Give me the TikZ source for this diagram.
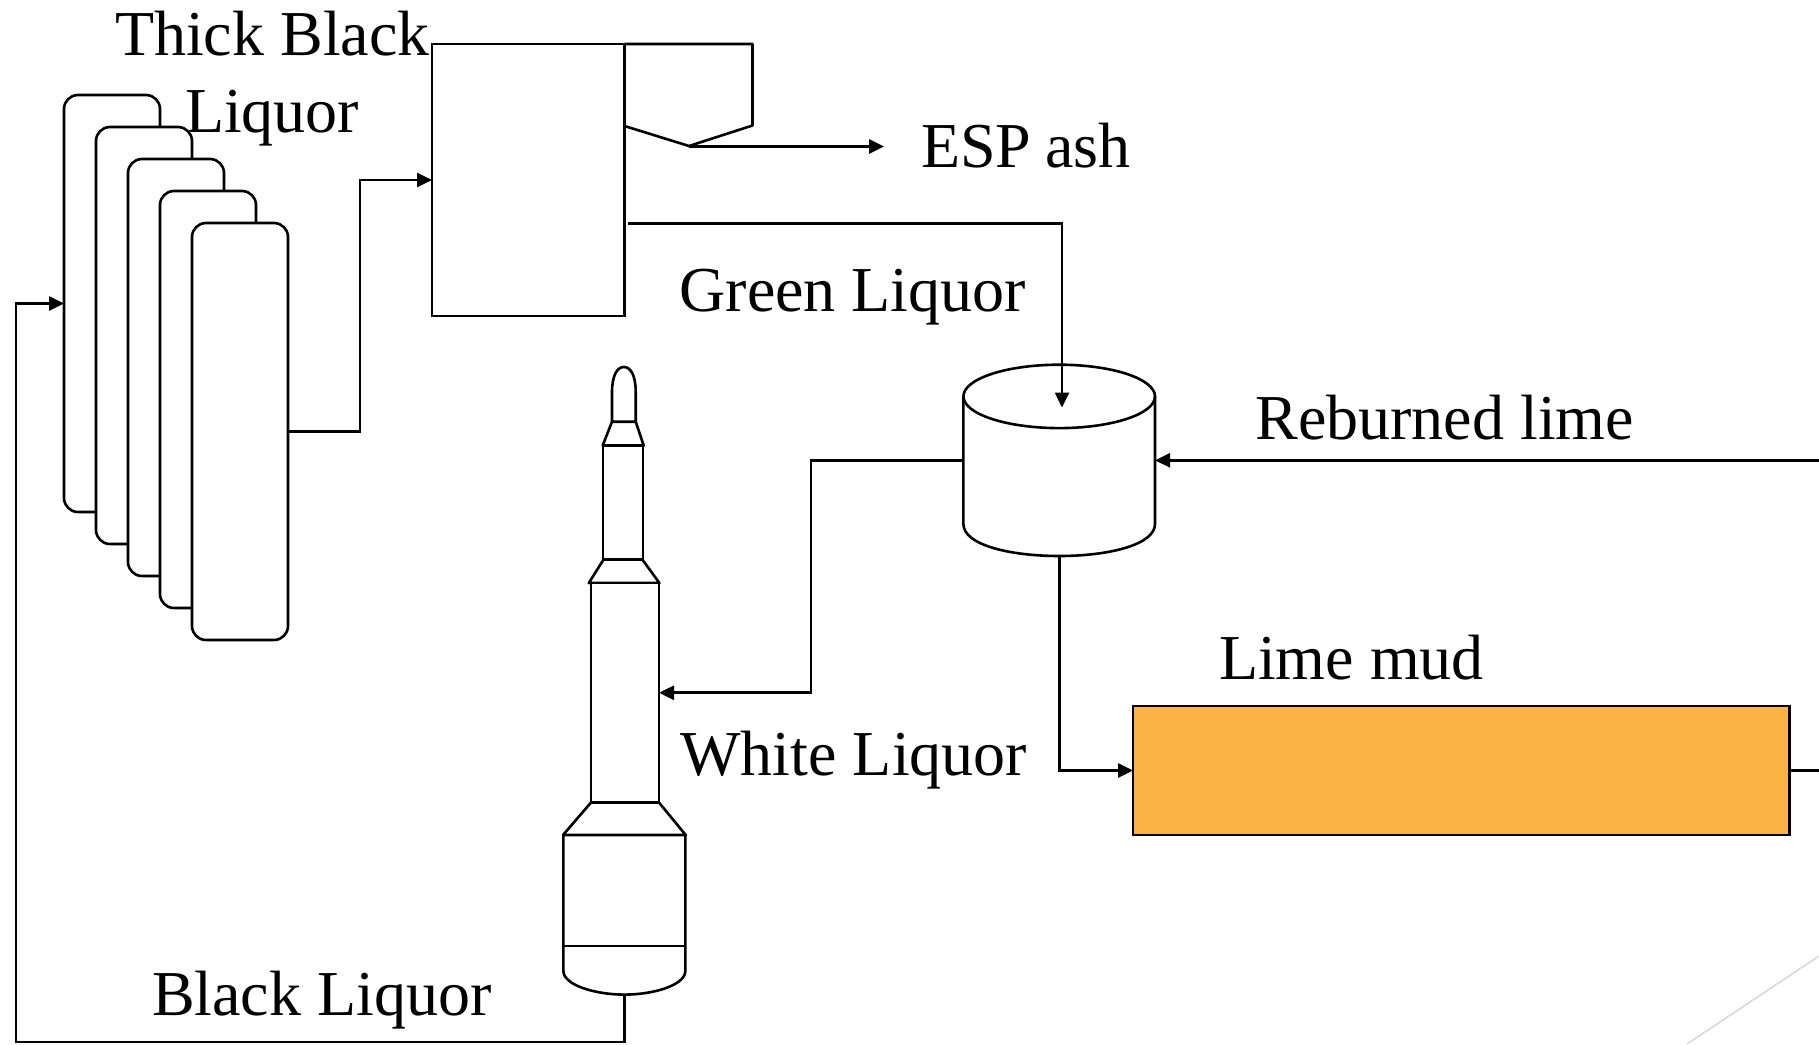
\documentclass[tikz,border=0pt]{standalone}
\usepackage{fontspec}
\setmainfont{Liberation Serif}
\usetikzlibrary{arrows.meta}
\definecolor{kilnfill}{HTML}{FBB344}
\definecolor{cornerline}{HTML}{D9D9D9}
\tikzset{
  lw/.style={line width=2.6pt,draw=black},
  flow/.style={lw,-{Triangle[length=15pt,width=14pt]}},
  boxpart/.style={lw,rectangle,fill=white,inner sep=0pt,outer sep=0pt},
  evapbox/.style={boxpart,rounded corners=14pt,minimum width=96pt,minimum height=417pt},
  anchorbox/.style={rectangle,inner sep=0pt,outer sep=0pt},
  lbl/.style={anchor=base west,inner sep=0pt,outer sep=0pt,font=\fontsize{64}{64}\selectfont,text=black}
}
\begin{document}
\begin{tikzpicture}[x=1pt,y=-1pt]
\useasboundingbox[fill=white] (0,0) rectangle (1819,1044);
% decorative corner line
\coordinate (cornerA) at (1687,1044);
\coordinate (cornerB) at (1819,956);
\draw[cornerline,line width=1.6pt] (cornerA) -- (cornerB);
% evaporators
\node[evapbox] (evapa) at (112,303.5) {};
\node[evapbox] (evapb) at (144,335.5) {};
\node[evapbox] (evapc) at (176,367.5) {};
\node[evapbox] (evapd) at (208,399.5) {};
\node[evapbox] (evape) at (240,431.5) {};
% furnace and ESP
\node[boxpart,minimum width=192.5pt,minimum height=272pt] (furnace) at (528.25,180) {};
\draw[lw,line join=round] (624.5,44) -- (752.5,44) -- (752.5,125.5) -- (689,146) -- (624.5,126);
\coordinate (espout) at (689,146.5);
\coordinate (espend) at (884,146.5);
% tank
\node[anchorbox,minimum width=191.6pt,minimum height=191.3pt] (tank) at (1059.2,460.35) {};
\draw[lw,fill=white] (963.4,396.4) -- (963.4,524) .. controls (963.4,545) and (1010,556) .. (1059.2,556) .. controls (1108,556) and (1155,545) .. (1155,524) -- (1155,396.4);
\draw[lw] (1059.2,396.4) ellipse [x radius=95.8,y radius=31.7];
% kiln
\node[boxpart,fill=kilnfill,minimum width=656.3pt,minimum height=129pt] (kiln) at (1461.15,770.5) {};
% column
\draw[lw,line join=round] (612,421.7) -- (612,392) .. controls (612,376) and (617,367) .. (623.9,367) .. controls (631,367) and (635.7,376) .. (635.7,392) -- (635.7,421.7) -- cycle;
\draw[lw,line join=round] (612,421.7) -- (602.7,445.5) -- (643.7,445.5) -- (635.7,421.7);
\node[boxpart,minimum width=40pt,minimum height=114.1pt] (colupper) at (623,502.55) {};
\draw[lw,line join=round] (603.5,559.6) -- (588.8,583) -- (659.4,583) -- (642.4,559.6);
\node[boxpart,minimum width=68pt,minimum height=219.5pt] (colmid) at (625,692.75) {};
\draw[lw,line join=round] (591,802.5) -- (563,835) -- (685.7,835) -- (659,802.5);
\draw[lw] (563.4,835) -- (563.4,971) .. controls (563.4,985) and (595,994.6) .. (624.4,994.6) .. controls (654,994.6) and (685.3,985) .. (685.3,971) -- (685.3,835);
\draw[lw] (563.4,946) -- (685.3,946);
\coordinate (colbottom) at (624.5,994.6);
% connectors
\coordinate (evapfeedx) at (360,300);
\draw[flow] (evape.east) -- (evapfeedx |- evape.east) -- (evapfeedx |- furnace.west) -- (furnace.west);
\draw[flow] (espout) -- (espend);
\coordinate (greenstart) at (627.5,223.5);
\coordinate (greencorner) at (1062,223.5);
\coordinate (greenend) at (1062,407.5);
\draw[flow] (greenstart) -- (greencorner) -- (greenend);
\coordinate (limein) at (1819,460.35);
\draw[flow] (limein) -- (tank.east);
\coordinate (whitex) at (811,500);
\draw[flow] (tank.west) -- (whitex |- tank.west) -- (whitex |- colmid.east) -- (colmid.east);
\draw[flow] (tank.south) -- (tank.south |- kiln.west) -- (kiln.west);
\coordinate (kilnout) at (1819,770.5);
\draw[lw] (kiln.east) -- (kilnout);
\coordinate (blackcorner) at (624.5,1042);
\coordinate (blackleft) at (16,1042);
\draw[flow] (colbottom) -- (blackcorner) -- (blackleft) -- (blackleft |- evapa.west) -- (evapa.west);
% labels
\node[lbl] (t1) at (115,55) {Thick Black};
\node[lbl] (t2) at (185,132) {Liquor};
\node[lbl] (t3) at (921,167.5) {ESP\hspace{-2pt} ash};
\node[lbl] (t4) at (679.5,311) {Green Liquor};
\node[lbl] (t5) at (1255.5,439) {Reburned lime};
\node[lbl] (t6) at (1219,679) {Lime mud};
\node[lbl] (t7) at (680.5,775.6) {White Liquor};
\node[lbl] (t8) at (152,1015.5) {Black Liquor};
\end{tikzpicture}
\end{document}
